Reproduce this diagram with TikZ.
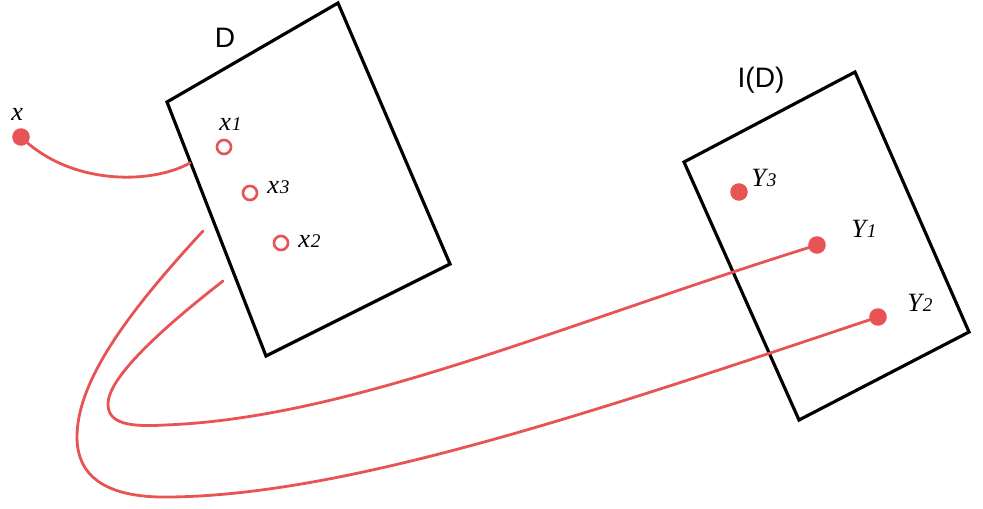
\documentclass[tikz,border=0pt]{standalone}
\usepackage{fontspec}
\setmainfont{Liberation Serif}
\setsansfont{Liberation Sans}
\definecolor{pinkred}{RGB}{232,84,86}
\begin{document}
\begin{tikzpicture}[x=0.02cm,y=-0.02cm,
  boxline/.style={draw=black,line width=1.8pt,line join=miter},
  curve/.style={draw=pinkred,line width=1.6pt,line cap=round},
  fdot/.style={circle,fill=pinkred,inner sep=0pt,minimum size=10pt},
  odot/.style={circle,draw=pinkred,line width=1.5pt,inner sep=0pt,minimum size=8pt},
  setlab/.style={font=\sffamily\fontsize{16}{18}\selectfont,inner sep=0pt},
  ptlab/.style={font=\itshape\fontsize{15}{17}\selectfont,inner sep=0pt,anchor=west}]
\useasboundingbox (0,0) rectangle (983,508);
% box D
\coordinate (d1) at (167,102);
\coordinate (d2) at (338,3);
\coordinate (d3) at (450,264);
\coordinate (d4) at (266,356);
\draw[boxline] (d1) -- (d2) -- (d3) -- (d4) -- cycle;
% box I(D)
\coordinate (i1) at (684,162);
\coordinate (i2) at (855,72);
\coordinate (i3) at (969,332);
\coordinate (i4) at (799,420);
\draw[boxline] (i1) -- (i2) -- (i3) -- (i4) -- cycle;
\node[setlab] (labD) at (225,38) {D};
\node[setlab] (labID) at (761,80) {I(D)};
% points
\node[fdot] (x) at (21,137) {};
\node[ptlab] (xl) at (11,114) {x};
\node[odot] (x1) at (224,147) {};
\node[ptlab] (x1l) at (219,124) {x\kern0.5pt{\fontsize{11}{12}\selectfont 1}};
\node[odot] (x3) at (250,193) {};
\node[ptlab] (x3l) at (267,187) {x\kern0.5pt{\fontsize{11}{12}\selectfont 3}};
\node[odot] (x2) at (281,243) {};
\node[ptlab] (x2l) at (298,241) {x\kern0.5pt{\fontsize{11}{12}\selectfont 2}};
\node[fdot] (y3) at (739,192) {};
\node[ptlab] (y3l) at (751,178) {Y\kern0.5pt{\fontsize{11}{12}\selectfont 3}};
\node[fdot] (y1) at (817,245) {};
\node[ptlab] (y1l) at (851,229) {Y\kern0.5pt{\fontsize{11}{12}\selectfont 1}};
\node[fdot] (y2) at (878,317) {};
\node[ptlab] (y2l) at (907,303) {Y\kern0.5pt{\fontsize{11}{12}\selectfont 2}};
% curve ends
\coordinate (xe) at (190,163);
\coordinate (s1) at (223,281);
\coordinate (s2) at (203,231);
% curves
\draw[curve] (x.center) .. controls (70,185) and (150,185) .. (xe);
\draw[curve] (s1) .. controls (160,330) and (108,378) .. (108,404)
  .. controls (108,424) and (130,427) .. (165,425)
  .. controls (350,418) and (560,325) .. (y1.center);
\draw[curve] (s2) .. controls (130,310) and (77,380) .. (77,437)
  .. controls (77,485) and (120,498) .. (170,497)
  .. controls (350,495) and (600,410) .. (y2.center);
\end{tikzpicture}
\end{document}
